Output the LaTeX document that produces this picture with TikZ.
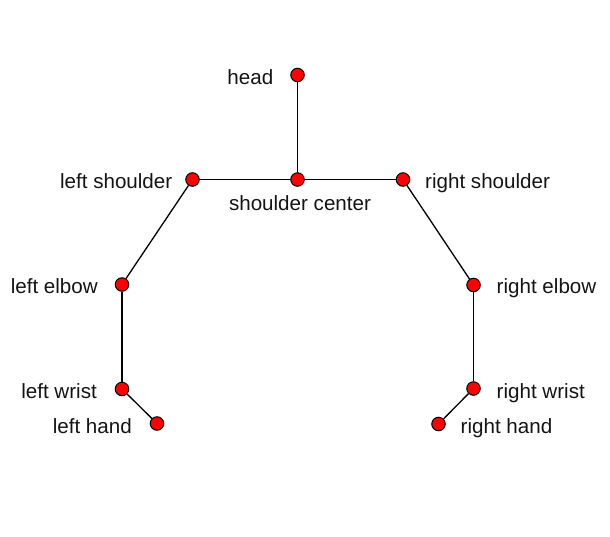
\documentclass[tikz,border=0pt]{standalone}
\usepackage{fontspec}
\setmainfont{Liberation Sans}
\begin{document}
\begin{tikzpicture}[x=1pt,y=-1pt,
  joint/.style={circle,draw=black,fill=red,line width=1pt,minimum size=13.5pt,inner sep=0pt},
  bone/.style={draw=black,line width=1.3pt},
  lbl/.style={inner sep=0pt,font=\fontsize{20.6}{24}\selectfont,text=black!92}]
\useasboundingbox (0,0) rectangle (610,536);
\node[joint] (head) at (297.5,75) {};
\node[joint] (sc) at (297.5,179.5) {};
\node[joint] (ls) at (192.5,179.5) {};
\node[joint] (rs) at (403,179.5) {};
\node[joint] (le) at (122,284.5) {};
\node[joint] (re) at (473.5,285) {};
\node[joint] (lw) at (122,389) {};
\node[joint] (rw) at (473.5,388.5) {};
\node[joint] (lh) at (157,423.5) {};
\node[joint] (rh) at (438.5,424) {};
\draw[bone] (head) -- (sc);
\draw[bone] (ls) -- (sc);
\draw[bone] (sc) -- (rs);
\draw[bone] (ls) -- (le);
\draw[bone] (le) -- (lw);
\draw[bone] (lw) -- (lh);
\draw[bone] (rs) -- (re);
\draw[bone] (re) -- (rw);
\draw[bone] (rw) -- (rh);
\node[lbl,anchor=base east] (thead) at ([xshift=-24pt,yshift=-9pt]head.center) {head};
\node[lbl,anchor=base] (tsc) at ([xshift=2.5pt,yshift=-30.5pt]sc.center) {shoulder center};
\node[lbl,anchor=base east] (tls) at ([xshift=-20pt,yshift=-9pt]ls.center) {left shoulder};
\node[lbl,anchor=base west] (trs) at ([xshift=22pt,yshift=-9pt]rs.center) {right shoulder};
\node[lbl,anchor=base east] (tle) at ([xshift=-24pt,yshift=-9pt]le.center) {left elbow};
\node[lbl,anchor=base west] (tre) at ([xshift=23pt,yshift=-8.5pt]re.center) {right elbow};
\node[lbl,anchor=base east] (tlw) at ([xshift=-25pt,yshift=-9pt]lw.center) {left wrist};
\node[lbl,anchor=base west] (trw) at ([xshift=23pt,yshift=-9.5pt]rw.center) {right wrist};
\node[lbl,anchor=base east] (tlh) at ([xshift=-25pt,yshift=-9.5pt]lh.center) {left hand};
\node[lbl,anchor=base west] (trh) at ([xshift=22pt,yshift=-9.5pt]rh.center) {right hand};
\end{tikzpicture}
\end{document}
